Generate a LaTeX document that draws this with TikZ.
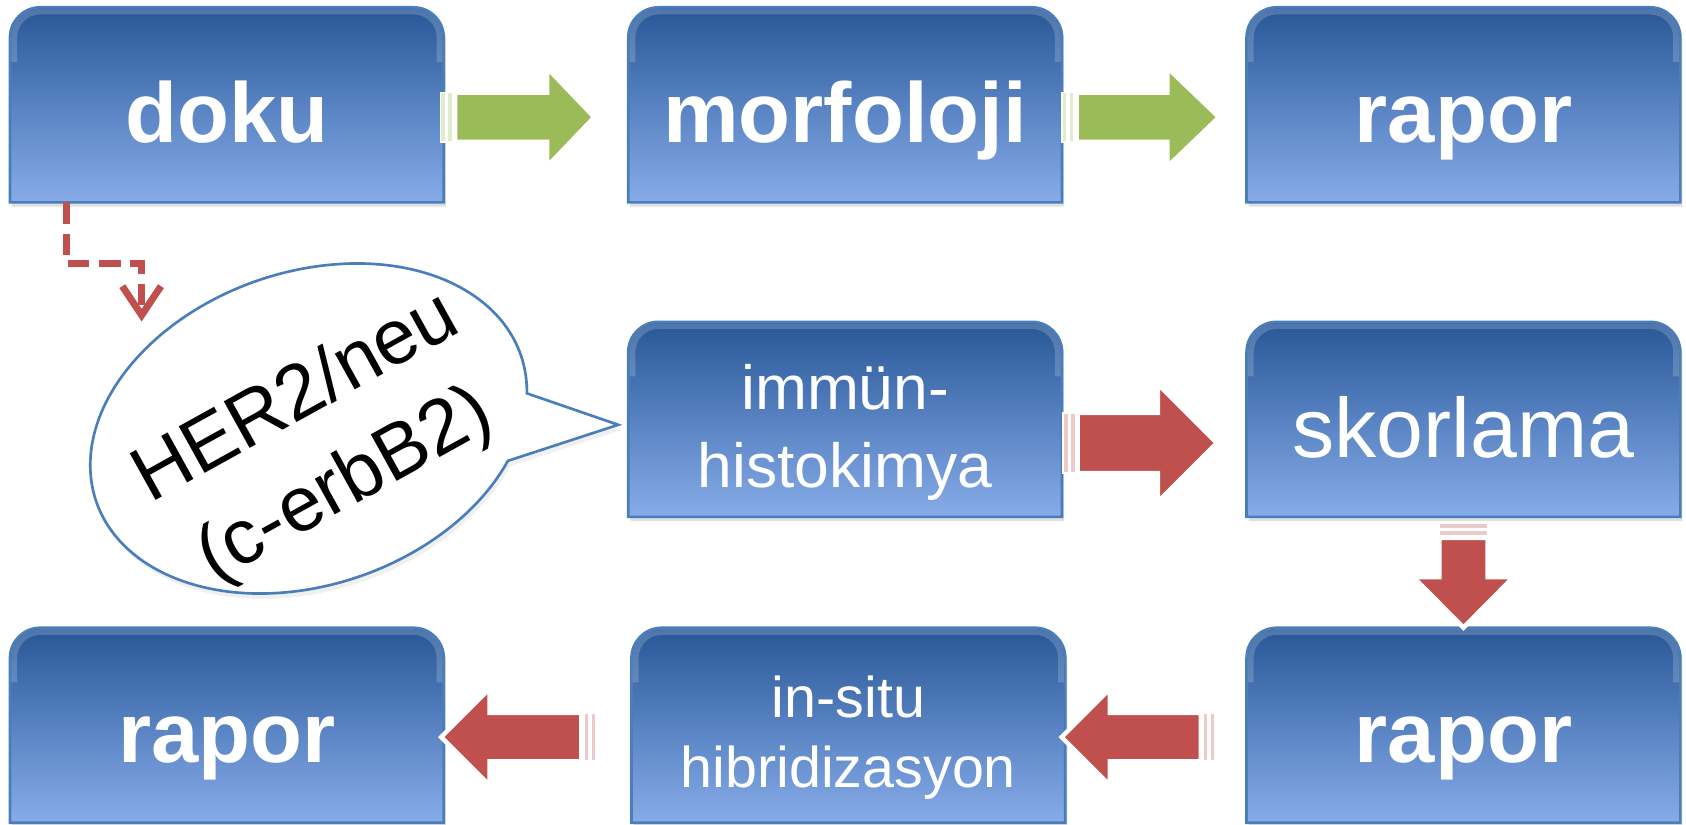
\documentclass[tikz,border=0pt]{standalone}
\usepackage{fontspec}
\setmainfont{Liberation Sans}
\usepackage{tikz}
\usetikzlibrary{calc}
\usetikzlibrary{shadows}
\usetikzlibrary{backgrounds}
\usetikzlibrary{arrows.meta}

\definecolor{boxtop}{RGB}{40,87,150}
\definecolor{boxmid}{RGB}{88,130,194}
\definecolor{boxbot}{RGB}{135,172,232}
\definecolor{boxline}{RGB}{74,126,187}
\definecolor{okgreen}{RGB}{155,187,89}
\definecolor{hered}{RGB}{192,80,77}

\tikzset{
  boxtxt/.style={text=white, minimum width=4.02cm, minimum height=1.8cm, inner sep=0pt, align=center},
  bigbold/.style={boxtxt, font=\fontsize{22.5}{27}\selectfont\bfseries, text height=0.9cm, text depth=0.2cm},
  bigthin/.style={boxtxt, font=\fontsize{22.3}{27}\selectfont, text height=0.9cm, text depth=0.2cm},
  twoline/.style={boxtxt, font=\fontsize{16.5}{20.5}\selectfont, text height=1.5cm, text depth=0.24cm},
  twolinesm/.style={boxtxt, font=\fontsize{15.2}{18.5}\selectfont, text height=1.4cm, text depth=0.24cm},
  calltxt/.style={align=center, font=\fontsize{20.5}{26.5}\selectfont, inner sep=0pt},
  dashline/.style={hered, line width=0.065cm, dash pattern=on 0.2cm off 0.09cm, -{Straight Barb[length=0.27cm,width=0.36cm]}}
}

% rounded-top box behind a node
\newcommand{\boxbg}[1]{\path[drop shadow={shadow xshift=0.02cm,shadow yshift=-0.04cm,opacity=0.25}, top color=boxtop, bottom color=boxbot, middle color=boxmid, draw=boxline, line width=0.7pt] (#1.south west) -- ($(#1.north west)+(0,-0.28)$) arc[start angle=180,end angle=90,radius=0.28] -- ($(#1.north east)+(-0.28,0)$) arc[start angle=90,end angle=0,radius=0.28] -- (#1.south east) -- cycle;
\draw[white, opacity=0.18, line width=1.5pt] ($(#1.west)+(0.04,0.4)$) -- ($(#1.north west)+(0.04,-0.28)$) arc[start angle=180,end angle=90,radius=0.24] -- ($(#1.north east)+(-0.28,-0.04)$) arc[start angle=90,end angle=0,radius=0.24] -- ($(#1.east)+(-0.04,0.4)$);}

% striped block arrow: tail, angle, colour, length, head length, shaft half, head half
\newcommand{\stripearrow}[7]{\begin{scope}[shift={(#1)},rotate=#2]
\filldraw[#3!30, draw=white, line width=0.5pt] (0,-#6) rectangle (0.05,#6);
\filldraw[#3!30, draw=white, line width=0.5pt] (0.065,-#6) rectangle (0.115,#6);
\filldraw[fill=#3, draw=white, line width=1.2pt] (0.135,-#6) -- ({#4-#5},-#6) -- ({#4-#5},-#7) -- (#4,0) -- ({#4-#5},#7) -- ({#4-#5},#6) -- (0.135,#6) -- cycle;
\end{scope}}

\begin{document}
\begin{tikzpicture}
        \useasboundingbox (0,0) rectangle (15.68,-7.67);
        \node[bigbold] (doku) at (2.11,-0.975) {doku};
        \node[bigbold] (morf) at (7.86,-0.975) {morfoloji};
        \node[bigbold] (rapora) at (13.61,-0.975) {rapor};
        \node[twoline] (ihk) at (7.86,-3.90) {immün-\\histokimya};
        \node[bigthin] (skor) at (13.61,-3.90) {skorlama};
        \node[bigbold] (raporb) at (2.11,-6.745) {rapor};
        \node[twolinesm] (ish) at (7.89,-6.745) {in-situ\\hibridizasyon};
        \node[bigbold] (raporc) at (13.61,-6.745) {rapor};
        \begin{scope}[on background layer]
        \foreach \b in {doku,morf,rapora,ihk,skor,raporb,ish,raporc} {\boxbg{\b}}
        \end{scope}
        %arrows
        \stripearrow{$(doku.east)+(-0.03,-0.115)$}{0}{okgreen}{1.43}{0.44}{0.23}{0.46}
        \stripearrow{$(morf.east)+(0,-0.115)$}{0}{okgreen}{1.46}{0.48}{0.23}{0.46}
        \stripearrow{$(ihk.east)+(0.01,-0.22)$}{0}{hered}{1.43}{0.55}{0.28}{0.55}
        \stripearrow{$(skor.south)+(0,-0.06)$}{-90}{hered}{0.97}{0.47}{0.225}{0.465}
        \stripearrow{$(raporc.west)+(-0.29,-0.11)$}{180}{hered}{1.43}{0.45}{0.225}{0.45}
        \stripearrow{$(ish.west)+(-0.33,-0.11)$}{180}{hered}{1.44}{0.45}{0.225}{0.45}
        %dashed link
        \coordinate (dstart) at ($(doku.south west)+(0.53,0)$);
        \coordinate (dend) at (1.317,-2.99);
        \draw[dashline] (dstart) -- ++(0,-0.572) -| (dend);
        %callout
        \begin{scope}[shift={(2.87,-3.985)},rotate=19]
        \filldraw[fill=white, draw=boxline, line width=0.7pt, drop shadow={opacity=0.12,shadow xshift=0.02cm,shadow yshift=-0.05cm}] (-14:2.088 and 1.455) arc[start angle=-14,end angle=322.4,x radius=2.088,y radius=1.455] -- (2.734,-0.905) -- cycle;
        \end{scope}
        \node[calltxt, rotate=29] (her2) at (2.99,-4.12) {HER2/neu\\(c-erbB2)};
    \end{tikzpicture}
\end{document}
